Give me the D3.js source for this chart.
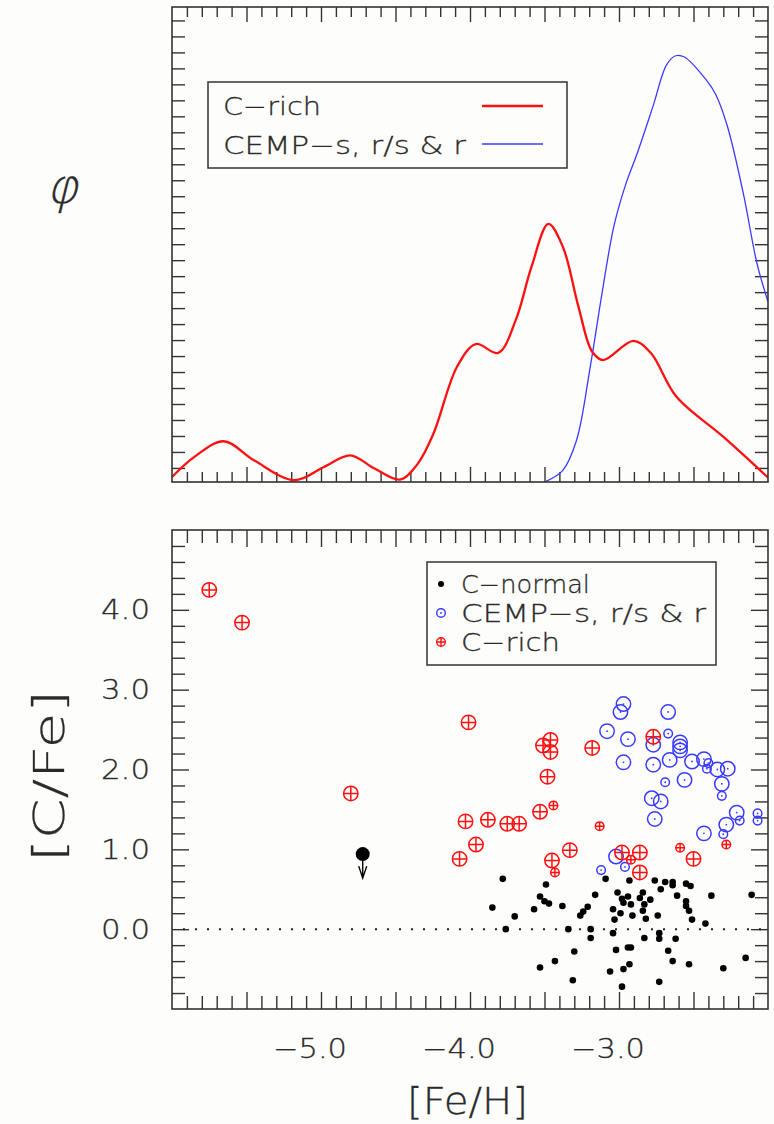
<!DOCTYPE html>
<html><head><meta charset="utf-8">
<script src="https://cdn.jsdelivr.net/npm/d3@7"></script>
<style>
body{margin:0;background:#fdfdfb}
text{font-family:"DejaVu Sans",sans-serif;font-weight:200;fill:#2a2a2a;stroke:#2a2a2a;stroke-width:0.3}
</style>
</head><body>
<svg id="c" width="774" height="1124"></svg>
<script>
// ---------------- data ----------------
const xTickLabels = [-5.0, -4.0, -3.0];
const yTickLabels = [0.0, 1.0, 2.0, 3.0, 4.0];

// top panel: distribution functions (arbitrary units)
const crichCurveFe  = [-6.0, -5.85, -5.653, -5.45, -5.179, -4.98, -4.805, -4.64, -4.469, -4.35, -4.245, -4.087, -3.961, -3.811, -3.693, -3.587, -3.474, -3.377, -3.272, -3.18, -3.106, -2.903, -2.785, -2.614, -2.299, -2.0];
const crichCurvePhi = [0.43, 1.69, 2.67, 1.48, 0.23, 1.06, 1.79, 0.96, 0.27, 1.27, 3.15, 7.33, 8.75, 8.2, 10.25, 13.59, 16.27, 14.84, 11.08, 8.27, 7.75, 8.95, 8.17, 5.45, 2.94, 0.4];
const cempCurveFe   = [-3.49, -3.377, -3.285, -3.193, -3.114, -3.035, -2.956, -2.877, -2.772, -2.68, -2.62, -2.561, -2.416, -2.35, -2.272, -2.166, -2.074, -2.0];
const cempCurvePhi  = [0.16, 0.85, 2.73, 7.33, 11.92, 16.1, 18.71, 20.7, 23.62, 26.23, 26.79, 26.71, 25.29, 24.35, 22.36, 18.19, 13.8, 11.4];

// bottom panel: C-normal stars
const normalFe  = [-3.09,-2.93,-2.76,-2.69,-2.64,-2.64,-2.55,-2.52,-2.72,-3.16,-3.01,-2.94,-2.84,-2.86,-2.98,-2.97,-2.92,-2.79,-2.83,-2.84,-2.61,-2.38,-2.11,-2.55,-2.55,-2.53,-2.51,-2.42,-3.38,-3.21,-3.24,-3.26,-3.04,-2.99,-3.03,-2.91,-2.82,-2.74,-3.34,-3.19,-3.19,-3.04,-2.83,-2.73,-2.73,-2.62,-3.30,-3.02,-2.94,-2.92,-2.67,-2.64,-2.53,-2.93,-2.97,-3.06,-2.15,-2.30,-3.31,-2.98,-2.73,-3.78,-3.49,-3.53,-3.50,-3.47,-3.85,-3.57,-3.70,-3.76,-3.43,-3.53];
const normalCFe = [0.63,0.61,0.61,0.59,0.59,0.55,0.57,0.54,0.50,0.43,0.46,0.41,0.46,0.39,0.38,0.33,0.31,0.37,0.31,0.23,0.42,0.42,0.43,0.35,0.29,0.23,0.12,0.07,0.29,0.28,0.22,0.17,0.25,0.20,0.12,0.17,0.13,0.17,0.00,0.00,-0.11,-0.05,-0.11,-0.05,-0.12,-0.12,-0.28,-0.26,-0.23,-0.23,-0.27,-0.40,-0.44,-0.44,-0.50,-0.53,-0.36,-0.49,-0.64,-0.72,-0.66,0.63,0.56,0.41,0.35,0.32,0.27,0.25,0.16,0.00,-0.40,-0.48];
// upper limit
const limitFe  = [-4.72];
const limitCFe = [0.94];

// CEMP-s, r/s & r (large and small symbols)
const cempFe       = [-2.97,-2.99,-2.67,-3.08,-2.94,-2.77,-2.59,-2.59,-2.59,-2.97,-2.77,-2.66,-2.51,-2.43,-2.34,-2.27,-2.56,-2.31,-2.78,-2.72,-2.76,-2.21,-2.28,-2.43,-3.02];
const cempCFe      = [2.82,2.72,2.72,2.48,2.38,2.31,2.34,2.29,2.24,2.09,2.06,2.12,2.10,2.13,2.00,2.01,1.87,1.82,1.64,1.60,1.38,1.46,1.31,1.20,0.91];
const cempSmallFe  = [-2.67,-2.40,-2.41,-2.69,-2.31,-2.19,-2.07,-2.07,-2.30,-3.12,-2.96];
const cempSmallCFe = [2.45,2.08,2.01,1.84,1.67,1.36,1.45,1.36,1.19,0.74,0.78];

// C-rich (large and small symbols)
const crichFe       = [-5.75,-5.53,-4.80,-4.01,-3.46,-3.51,-3.46,-3.48,-3.53,-4.03,-3.88,-3.75,-3.67,-3.96,-4.07,-3.45,-3.33,-3.18,-2.77,-2.98,-2.86,-2.86,-2.50];
const crichCFe      = [4.25,3.84,1.70,2.59,2.37,2.30,2.22,1.91,1.47,1.35,1.37,1.32,1.32,1.06,0.88,0.86,0.99,2.27,2.41,0.96,0.96,0.71,0.88];
const crichSmallFe  = [-3.44,-3.43,-3.13,-2.92,-2.59,-2.28];
const crichSmallCFe = [1.55,0.71,1.29,0.87,1.02,1.06];

// ---------------- drawing ----------------
const svg = d3.select("#c");
const RED = "#ff1010", BLUE = "#3a3aff", INK = "#333";
const L = 172, R = 768;
const x = d3.scaleLinear().domain([-6, -2]).range([L, R]);
const topT = 7, topB = 482, botT = 530, botB = 1009;
const yTop = d3.scaleLinear().domain([0.12, 29.84]).range([topB, topT]);
const yBot = d3.scaleLinear().domain([-1, 5]).range([botB, botT]);

svg.append("rect").attr("width",774).attr("height",1124).attr("fill","#fdfdfb");

const xMinor = d3.range(-59, -20).filter(i => i % 5 !== 0).map(i => i/10);
const xMajor = d3.range(-59, -20).filter(i => i % 5 === 0).map(i => i/10);
const MIN = 13, MAJ = 17;

function ticks(axisFn, scale, vals, len, tx, ty) {
  const g = svg.append("g").attr("transform", `translate(${tx},${ty})`)
    .call(axisFn(scale).tickValues(vals).tickSizeInner(-len).tickSizeOuter(0).tickFormat(""));
  g.select(".domain").remove();
  g.selectAll("line").attr("stroke", INK).attr("stroke-width", 1.4);
}
function label(sel, len) {
  return sel.attr("textLength", len).attr("lengthAdjust", "spacingAndGlyphs");
}

// ---- top panel ----
const topYTicks = d3.range(1, 30);
ticks(d3.axisBottom, x, xMinor, MIN-3, 0, topB);
ticks(d3.axisBottom, x, xMajor, MAJ-2, 0, topB);
ticks(d3.axisTop, x, xMinor, MIN-3, 0, topT);
ticks(d3.axisTop, x, xMajor, MAJ-2, 0, topT);
ticks(d3.axisLeft, yTop, topYTicks, MIN, L, 0);
ticks(d3.axisRight, yTop, topYTicks, MIN, R, 0);

svg.append("clipPath").attr("id","clipTop").append("rect")
  .attr("x",L).attr("y",topT).attr("width",R-L).attr("height",topB-topT);

const line = d3.line().x(d => x(d[0])).y(d => yTop(d[1])).curve(d3.curveCatmullRom.alpha(0.5));
svg.append("path").attr("clip-path","url(#clipTop)")
  .datum(d3.zip(cempCurveFe, cempCurvePhi))
  .attr("d", line).attr("fill","none").attr("stroke",BLUE).attr("stroke-width",1.3);
svg.append("path").attr("clip-path","url(#clipTop)")
  .datum(d3.zip(crichCurveFe, crichCurvePhi))
  .attr("d", line).attr("fill","none").attr("stroke",RED).attr("stroke-width",2.3);

svg.append("rect").attr("x",L).attr("y",topT).attr("width",R-L).attr("height",topB-topT)
  .attr("fill","none").attr("stroke",INK).attr("stroke-width",1.6);

// top legend
svg.append("rect").attr("x",208).attr("y",82).attr("width",359).attr("height",86)
  .attr("fill","none").attr("stroke",INK).attr("stroke-width",1.5);
label(svg.append("text").attr("x",223).attr("y",115).attr("font-size",25), 98).text("C\u2212rich");
label(svg.append("text").attr("x",223).attr("y",154).attr("font-size",25), 243).text("CEMP\u2212s, r/s & r");
svg.append("line").attr("x1",482).attr("x2",543).attr("y1",106).attr("y2",106)
  .attr("stroke",RED).attr("stroke-width",2.6);
svg.append("line").attr("x1",482).attr("x2",543).attr("y1",144).attr("y2",144)
  .attr("stroke",BLUE).attr("stroke-width",1.3);

// φ axis symbol (thin, slanted)
svg.append("text").attr("transform","translate(62,203) skewX(-14)").attr("font-size",48)
  .attr("text-anchor","middle").text("\u03C6");

// ---- bottom panel ----
const yMinor = d3.range(-4, 25).filter(i => i % 5 !== 0).map(i => i/5);
const yMajor = d3.range(-4, 25).filter(i => i % 5 === 0).map(i => i/5);
ticks(d3.axisBottom, x, xMinor, MIN, 0, botB);
ticks(d3.axisBottom, x, xMajor, MAJ, 0, botB);
ticks(d3.axisTop, x, xMinor, MIN, 0, botT);
ticks(d3.axisTop, x, xMajor, MAJ, 0, botT);
ticks(d3.axisLeft, yBot, yMinor, MIN, L, 0);
ticks(d3.axisLeft, yBot, yMajor, MAJ, L, 0);
ticks(d3.axisRight, yBot, yMinor, MIN, R, 0);
ticks(d3.axisRight, yBot, yMajor, MAJ, R, 0);

// dotted zero line
svg.append("line").attr("x1",183).attr("x2",R).attr("y1",yBot(0)).attr("y2",yBot(0))
  .attr("stroke","#222").attr("stroke-width",2).attr("stroke-dasharray","2 10");

const g = svg.append("g");
// C-normal
g.selectAll("circle.n").data(d3.zip(normalFe, normalCFe)).join("circle")
  .attr("cx", d => x(d[0])).attr("cy", d => yBot(d[1])).attr("r", 3.3).attr("fill","#000");

// upper limit
d3.zip(limitFe, limitCFe).forEach(d => {
  const cx = x(d[0]), cy = yBot(d[1]);
  g.append("circle").attr("cx",cx).attr("cy",cy).attr("r",7).attr("fill","#000");
  g.append("path").attr("d",`M${cx},${cy} V${cy+24} M${cx-4},${cy+12} L${cx},${cy+24} L${cx+4},${cy+12}`)
    .attr("fill","none").attr("stroke","#000").attr("stroke-width",1.4);
});

function cemp(parent, data, r) {
  data.forEach(d => {
    const cx = x(d[0]), cy = yBot(d[1]);
    parent.append("circle").attr("cx",cx).attr("cy",cy).attr("r",r).attr("fill","none")
      .attr("stroke",BLUE).attr("stroke-width",1.5);
    parent.append("circle").attr("cx",cx).attr("cy",cy).attr("r",0.9).attr("fill",BLUE);
  });
}
function crich(parent, data, r) {
  data.forEach(d => {
    const cx = x(d[0]), cy = yBot(d[1]);
    parent.append("circle").attr("cx",cx).attr("cy",cy).attr("r",r).attr("fill","none")
      .attr("stroke",RED).attr("stroke-width",1.5);
    parent.append("path").attr("d",`M${cx-r},${cy}H${cx+r}M${cx},${cy-r}V${cy+r}`)
      .attr("stroke",RED).attr("stroke-width",1.5);
  });
}
cemp(g, d3.zip(cempFe, cempCFe), 7.2);
cemp(g, d3.zip(cempSmallFe, cempSmallCFe), 4.3);
crich(g, d3.zip(crichFe, crichCFe), 7.2);
crich(g, d3.zip(crichSmallFe, crichSmallCFe), 4.3);

svg.append("rect").attr("x",L).attr("y",botT).attr("width",R-L).attr("height",botB-botT)
  .attr("fill","none").attr("stroke",INK).attr("stroke-width",1.6);

// bottom legend
svg.append("rect").attr("x",427).attr("y",562).attr("width",289).attr("height",103)
  .attr("fill","none").attr("stroke",INK).attr("stroke-width",1.5);
const lg = svg.append("g");
lg.append("circle").attr("cx",441).attr("cy",584).attr("r",3).attr("fill","#000");
lg.append("circle").attr("cx",441).attr("cy",613).attr("r",4.3).attr("fill","none").attr("stroke",BLUE).attr("stroke-width",1.4);
lg.append("circle").attr("cx",441).attr("cy",613).attr("r",0.9).attr("fill",BLUE);
lg.append("circle").attr("cx",441).attr("cy",642).attr("r",4.3).attr("fill","none").attr("stroke",RED).attr("stroke-width",1.4);
lg.append("path").attr("d","M436.7,642H445.3M441,637.7V646.3").attr("stroke",RED).attr("stroke-width",1.4);
label(svg.append("text").attr("x",461).attr("y",593).attr("font-size",25), 129).text("C\u2212normal");
label(svg.append("text").attr("x",461).attr("y",622).attr("font-size",25), 245).text("CEMP\u2212s, r/s & r");
label(svg.append("text").attr("x",461).attr("y",651).attr("font-size",25), 99).text("C\u2212rich");

// tick labels
const fmt = v => (v < 0 ? "\u2212" : "") + Math.abs(v).toFixed(1);
label(svg.selectAll("text.xl").data(xTickLabels).join("text").attr("class","xl")
  .attr("x", d => x(d) - 48).attr("y", 1057.5).attr("font-size",26), 74).text(fmt);
label(svg.selectAll("text.yl").data(yTickLabels).join("text").attr("class","yl")
  .attr("x", 101).attr("y", d => yBot(d) + 9.6).attr("font-size",26), 49).text(fmt);

// axis titles
label(svg.append("text").attr("x",407).attr("y",1114).attr("font-size",38), 121).text("[Fe/H]");
label(svg.append("text").attr("transform","translate(64,862) rotate(-90)").attr("font-size",42), 172).text("[C/Fe]");
</script>
</body></html>
